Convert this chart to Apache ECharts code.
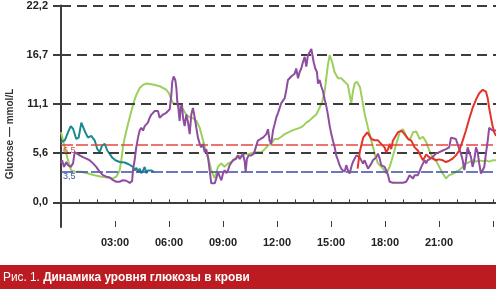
<!DOCTYPE html>
<html><head><meta charset="utf-8">
<script src="https://cdn.jsdelivr.net/npm/echarts@6/dist/echarts.min.js"></script>
<style>html,body{margin:0;padding:0;background:#fff}#c{width:496px;height:289px}</style>
</head><body><div id="c"></div>
<script>
// Data (hours since 00:00, glucose mmol/L)
const tealData = [[0,6.8],[0.21,7.0],[0.39,7.9],[0.54,8.6],[0.67,8.3],[0.85,7.15],[0.98,7.3],[1.13,9.0],[1.22,9.2],[1.35,7.9],[1.5,7.3],[1.68,7.5],[1.87,7.0],[2.02,6.0],[2.15,5.66],[2.28,6.4],[2.43,6.6],[2.57,5.85],[2.7,5.5],[2.83,5.1],[3.02,4.75],[3.26,4.55],[3.54,4.5],[3.76,4.3],[4.0,4.0],[4.09,3.6],[4.19,3.9],[4.28,3.4],[4.37,3.8],[4.46,3.3],[4.56,3.6],[4.65,4.0],[4.74,3.3],[4.83,3.6],[4.93,3.4],[5.02,3.6],[5.15,3.45]];
const greenData = [[0,7.9],[0.11,7.0],[0.29,5.5],[0.44,4.4],[0.57,3.6],[0.76,3.45],[1.13,3.45],[1.5,3.25],[1.87,3.05],[2.24,2.9],[2.61,2.8],[2.89,2.7],[3.07,2.9],[3.26,3.6],[3.35,4.75],[3.44,6.2],[3.54,7.3],[3.72,8.8],[3.91,10.3],[4.06,11.4],[4.18,12.1],[4.37,12.9],[4.56,13.25],[4.74,13.4],[5.11,13.3],[5.48,13.1],[5.85,12.7],[6.0,12.3],[6.13,11.6],[6.22,11.2],[6.41,11.1],[6.59,10.85],[6.78,10.5],[6.96,9.9],[7.15,9.6],[7.33,9.5],[7.52,9.2],[7.71,8.4],[7.89,7.0],[8.07,5.66],[8.26,4.4],[8.35,3.6],[8.54,2.7],[8.72,4.0],[8.91,4.4],[9.09,4.0],[9.28,4.4],[9.46,4.55],[9.65,4.9],[9.83,5.3],[10.02,5.1],[10.21,5.5],[10.39,5.4],[10.57,5.55],[10.76,5.66],[11.13,5.66],[11.32,6.0],[11.5,6.4],[11.68,6.66],[11.87,7.15],[12.06,7.15],[12.24,7.4],[12.43,7.7],[12.52,7.7],[12.89,8.15],[13.26,8.4],[13.44,8.6],[13.63,9.0],[13.82,9.25],[14.0,9.6],[14.18,9.9],[14.28,10.3],[14.41,10.85],[14.52,11.4],[14.65,12.5],[14.74,14.0],[14.83,15.5],[14.93,16.6],[14.98,16.75],[15.07,15.8],[15.2,14.7],[15.39,14.0],[15.57,14.0],[15.76,13.6],[15.94,13.25],[16.04,12.1],[16.13,11.2],[16.22,12.5],[16.32,13.4],[16.44,13.6],[16.61,13.0],[16.71,11.9],[16.87,10.0],[17.06,8.4],[17.24,7.0],[17.43,5.5],[17.61,4.4],[17.89,3.8],[18.08,3.26],[18.26,4.0],[18.44,5.2],[18.63,6.6],[18.82,7.9],[19.0,8.25],[19.18,7.5],[19.37,7.0],[19.56,7.9],[19.74,8.0],[19.93,7.15],[20.11,7.4],[20.29,6.8],[20.46,5.85],[20.65,5.1],[20.83,4.74],[21.02,4.0],[21.21,3.26],[21.39,2.7],[21.57,3.07],[21.76,3.2],[21.94,3.44],[22.13,3.63],[22.32,4.0],[22.5,4.37],[22.68,4.55],[22.87,4.74],[23.06,4.6],[23.24,4.74],[23.43,4.65],[23.61,4.74],[23.79,4.6],[23.98,4.74],[24.17,4.74]];
const purpleData = [[0,4.4],[0.06,4.75],[0.17,4.0],[0.29,4.55],[0.39,4.2],[0.54,4.0],[0.67,4.4],[0.76,5.66],[0.85,5.85],[1.04,5.3],[1.22,5.1],[1.41,4.93],[1.59,4.75],[1.78,4.4],[1.96,4.0],[2.15,3.44],[2.33,3.07],[2.52,2.9],[2.71,2.8],[2.89,2.5],[3.07,2.33],[3.26,2.33],[3.44,2.5],[3.63,2.44],[3.82,2.2],[3.95,2.4],[4.0,3.6],[4.09,4.75],[4.18,6.2],[4.28,7.3],[4.37,8.1],[4.46,8.4],[4.56,8.1],[4.65,8.6],[4.74,8.4],[4.83,9.0],[4.93,9.55],[5.02,9.9],[5.11,10.1],[5.21,10.3],[5.29,10.1],[5.39,10.3],[5.48,9.55],[5.57,9.75],[5.67,9.9],[5.85,10.1],[5.94,10.3],[6.04,10.5],[6.13,12.1],[6.18,13.6],[6.26,14.2],[6.35,13.8],[6.41,12.9],[6.46,11.4],[6.52,10.65],[6.59,9.2],[6.65,10.65],[6.72,11.0],[6.78,9.55],[6.87,8.6],[6.96,9.9],[7.06,9.0],[7.15,7.7],[7.24,9.9],[7.33,10.65],[7.43,9.55],[7.52,8.4],[7.61,7.3],[7.71,6.6],[7.79,6.2],[7.89,6.6],[7.98,5.66],[8.07,6.0],[8.17,5.1],[8.26,3.6],[8.35,2.15],[8.54,2.15],[8.63,2.7],[8.72,3.44],[8.82,2.9],[8.91,2.5],[9.0,3.26],[9.09,3.63],[9.18,3.3],[9.28,3.63],[9.37,4.2],[9.46,4.37],[9.56,4.75],[9.65,4.6],[9.74,4.93],[9.83,5.3],[9.93,4.9],[10.02,5.2],[10.11,5.5],[10.21,4.55],[10.26,3.44],[10.33,4.93],[10.43,5.3],[10.57,5.3],[10.72,5.5],[10.85,6.4],[10.94,6.96],[11.09,7.15],[11.22,7.3],[11.41,7.7],[11.5,8.25],[11.59,6.96],[11.68,6.6],[11.78,8.1],[11.87,8.8],[11.96,9.55],[12.06,10.1],[12.15,10.0],[12.24,11.2],[12.33,11.2],[12.43,11.75],[12.52,12.7],[12.61,13.8],[12.71,13.6],[12.79,14.2],[12.89,14.4],[12.98,14.5],[13.07,15.1],[13.17,14.0],[13.26,14.7],[13.35,15.1],[13.44,15.8],[13.54,16.4],[13.63,15.3],[13.72,16.6],[13.82,16.95],[13.91,17.3],[13.96,17.1],[14.04,15.8],[14.13,15.1],[14.22,14.7],[14.28,13.4],[14.37,13.8],[14.46,13.1],[14.56,12.5],[14.65,11.6],[14.74,10.85],[14.83,9.9],[14.93,8.6],[15.02,7.7],[15.11,6.96],[15.21,6.2],[15.29,5.3],[15.39,4.75],[15.48,4.2],[15.57,3.8],[15.67,3.63],[15.76,3.44],[15.85,4.2],[15.94,3.63],[16.04,3.26],[16.13,4.0],[16.22,4.55],[16.32,4.75],[16.41,5.3],[16.5,5.5],[16.59,5.1],[16.68,5.2],[16.78,4.37],[16.87,4.75],[16.96,4.6],[17.06,3.8],[17.15,4.0],[17.24,4.37],[17.33,4.75],[17.43,4.6],[17.52,5.1],[17.61,5.5],[17.71,4.93],[17.79,4.2],[17.89,4.3],[17.98,4.0],[18.07,3.63],[18.17,3.07],[18.26,2.33],[18.44,2.22],[18.72,2.22],[19.0,2.22],[19.18,2.33],[19.28,2.7],[19.37,3.07],[19.46,3.26],[19.56,2.7],[19.65,3.07],[19.74,2.9],[19.83,3.07],[19.93,3.26],[20.02,4.0],[20.11,4.37],[20.21,4.75],[20.29,4.4],[20.37,4.75],[20.5,4.9],[20.65,5.1],[20.83,5.5],[21.02,5.66],[21.21,5.85],[21.39,6.0],[21.57,6.2],[21.67,7.3],[21.76,7.5],[21.94,7.15],[22.04,6.96],[22.13,6.0],[22.22,5.5],[22.32,4.75],[22.41,3.63],[22.5,4.75],[22.59,6.2],[22.68,6.4],[22.78,5.1],[22.87,4.0],[22.96,4.75],[23.06,6.2],[23.15,5.66],[23.24,4.37],[23.33,3.26],[23.43,3.07],[23.52,4.0],[23.61,5.5],[23.71,6.96],[23.79,8.4],[23.89,8.25],[23.98,8.1],[24.07,8.25],[24.17,8.1]];
const redData = [[16.48,3.8],[16.61,5.8],[16.79,7.3],[16.87,7.5],[17.02,7.9],[17.15,7.5],[17.24,7.15],[17.43,7.0],[17.61,7.0],[17.79,6.6],[17.98,6.2],[18.07,5.66],[18.17,6.0],[18.26,6.6],[18.35,6.0],[18.44,6.96],[18.54,7.3],[18.63,7.5],[18.72,7.9],[18.91,8.1],[19.09,7.7],[19.28,7.15],[19.46,6.96],[19.65,6.2],[19.83,5.85],[20.02,5.1],[20.11,4.75],[20.21,5.1],[20.29,5.4],[20.46,5.1],[20.65,4.93],[20.83,4.75],[21.02,4.85],[21.21,4.75],[21.39,4.55],[21.57,4.7],[21.76,4.93],[21.94,5.3],[22.13,5.85],[22.32,6.96],[22.5,8.1],[22.68,9.4],[22.87,10.65],[23.06,11.6],[23.24,12.3],[23.43,12.7],[23.52,12.9],[23.61,12.5],[23.71,11.75],[23.79,10.65],[23.89,9.55],[23.98,8.6],[24.07,7.9],[24.17,7.5]];
const yTicks = [0, 5.55, 11.1, 16.65, 22.2];
const yTickLabels = ['0,0', '5,6', '11,1', '16,7', '22,2'];
const refLines = [6.5, 3.5];
const refLabels = ['6,5', '3,5'];
const xLabelHours = [3, 6, 9, 12, 15, 18, 21];
const axisTitle = 'Glucose \u2014 mmol/L';
const captionPrefix = 'Рис. 1. ';
const captionTitle = 'Динамика уровня глюкозы в крови';

const chart = echarts.init(document.getElementById('c'), null, {renderer: 'canvas'});
const axisColor = '#3d3d3d';
const lbl = {fontFamily: 'Liberation Sans, Arial, sans-serif', fontWeight: 'bold', fontSize: 11, color: '#222'};
const line = (name, data, color, z) => ({name, type: 'line', data, symbol: 'none', z,
  lineStyle: {color, width: 2}, animation: false, silent: true});

chart.setOption({
  backgroundColor: '#fff',
  animation: false,
  grid: {left: 61, right: 0, top: 4, bottom: 62, containLabel: false},
  xAxis: [{
    type: 'value', min: 0, max: 24.17, interval: 1,
    axisLine: {show: true, lineStyle: {color: axisColor, width: 2}},
    axisTick: {show: true, inside: true, length: 3, lineStyle: {color: axisColor, width: 1}},
    axisLabel: {show: false}, splitLine: {show: false}
  }, {
    type: 'value', min: 0, max: 24.17, interval: 3, position: 'bottom',
    axisLine: {show: false},
    axisTick: {show: true, inside: true, length: 6, lineStyle: {color: axisColor, width: 1}},
    axisLabel: Object.assign({margin: 10, showMaxLabel: false, showMinLabel: false,
      formatter: v => xLabelHours.indexOf(Math.round(v)) >= 0 && Math.abs(v - Math.round(v)) < 1e-6 ? String(Math.round(v)).padStart(2, '0') + ':00' : ''}, lbl),
    splitLine: {show: false}
  }],
  yAxis: {
    type: 'value', min: -2.775, max: 22.2,
    axisLine: {show: true, lineStyle: {color: axisColor, width: 2}},
    axisTick: {show: true, customValues: yTicks, length: 8, lineStyle: {color: axisColor, width: 2}},
    axisLabel: Object.assign({customValues: yTicks, margin: 13,
      formatter: v => { const i = yTicks.findIndex(t => Math.abs(t - v) < 1e-6); return i >= 0 ? yTickLabels[i] : ''; }}, lbl),
    splitLine: {show: false}
  },
  series: [
    {type: 'line', data: [], z: 1, silent: true, animation: false,
      markLine: {silent: true, symbol: 'none', animation: false,
        lineStyle: {color: axisColor, width: 2, type: [10, 6]}, label: {show: false},
        data: yTicks.map(v => ({yAxis: v}))}},
    {type: 'line', data: [], z: 1, silent: true, animation: false,
      markLine: {silent: true, symbol: 'none', animation: false,
        data: refLines.map((v, i) => ({yAxis: v,
          lineStyle: {color: i === 0 ? '#e8453c' : '#3a4ea8', width: 1.5, type: [12, 3]},
          label: {show: true, position: 'insideStartBottom', distance: [2, 1], formatter: refLabels[i],
            fontSize: 9, fontFamily: 'Liberation Sans, Arial, sans-serif', color: i === 0 ? '#e8453c' : '#3a4ea8'}}))}},
    line('green', greenData, '#9dcf5c', 3),
    line('teal', tealData, '#1a8a8c', 4),
    line('purple', purpleData, '#8e4d9f', 5),
    line('red', redData, '#e3342b', 6)
  ],
  graphic: [
    {type: 'text', x: 10, y: 134, rotation: Math.PI / 2,
      style: {text: axisTitle, fill: '#333', font: 'bold 10px "Liberation Sans", Arial, sans-serif', textAlign: 'center', textVerticalAlign: 'middle'}},
    {type: 'rect', shape: {x: 0, y: 265, width: 496, height: 24}, style: {fill: '#bc1c21'}},
    {type: 'text', x: 3, y: 277, scaleX: 0.91,
      style: {text: '{a|' + captionPrefix + '}{b|' + captionTitle + '}', textVerticalAlign: 'middle',
        rich: {a: {fill: '#fff', font: '13px "Liberation Sans", Arial, sans-serif'},
               b: {fill: '#fff', font: 'bold 13px "Liberation Sans", Arial, sans-serif'}}}}
  ]
});
</script></body></html>
